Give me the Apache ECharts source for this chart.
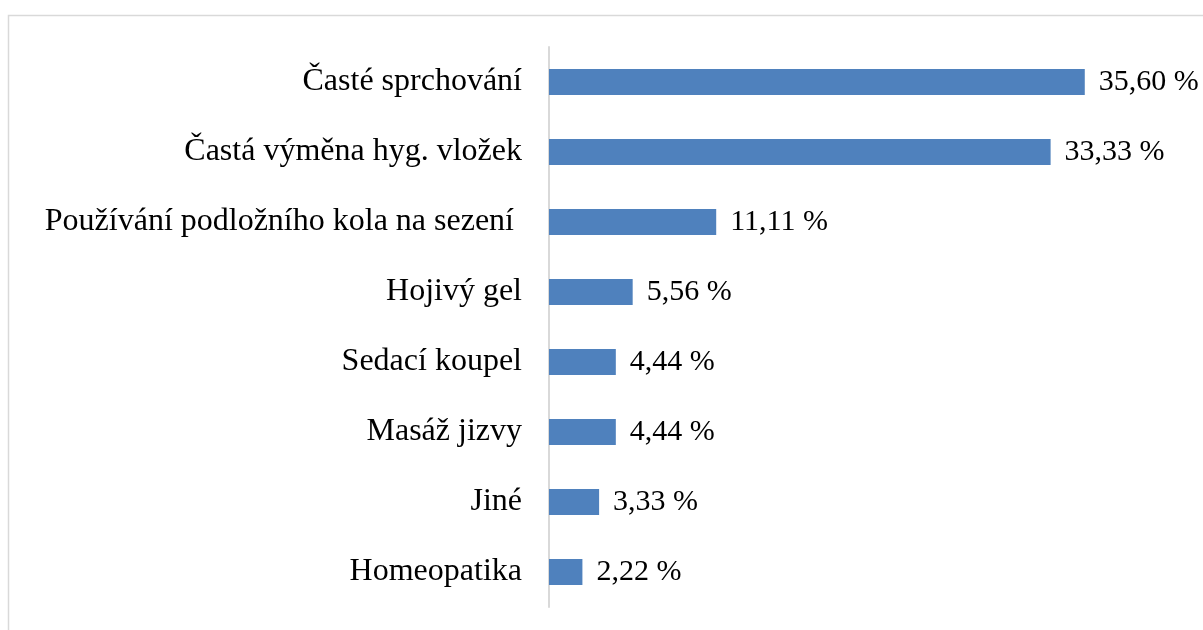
<!DOCTYPE html>
<html><head><meta charset="utf-8">
<script src="https://cdn.jsdelivr.net/npm/echarts@6/dist/echarts.min.js"></script>
<style>html,body{margin:0;padding:0;background:#fff}#c{width:1203px;height:630px}</style>
</head><body><div id="c"></div>
<script>
const categories = ["Časté sprchování","Častá výměna hyg. vložek","Používání podložního kola na sezení ","Hojivý gel","Sedací koupel","Masáž jizvy","Jiné","Homeopatika"];
const values = [35.60,33.33,11.11,5.56,4.44,4.44,3.33,2.22];
const chart = echarts.init(document.getElementById('c'));
const font = "'Liberation Serif','Times New Roman',serif";
chart.setOption({
  animation:false,
  graphic:[{type:'rect',shape:{x:8.5,y:15.5,width:1300,height:700},style:{fill:'none',stroke:'#d9d9d9',lineWidth:1.5},silent:true}],
  grid:{left:549,right:52,top:47,bottom:23,containLabel:false},
  xAxis:{type:'value',min:0,max:40,show:false},
  yAxis:{type:'category',data:categories,inverse:true,
    axisLine:{show:true,lineStyle:{color:'#d9d9d9',width:2}},
    axisTick:{show:false},
    axisLabel:{fontFamily:font,fontSize:32,color:'#000',margin:27,padding:[3,0,0,0]}},
  series:[{type:'bar',data:values,barWidth:26,
    itemStyle:{color:'#4F81BD'},
    label:{show:true,position:'right',distance:14,fontFamily:font,fontSize:30,color:'#000',padding:[3,0,0,0],
      formatter:p=>p.value.toFixed(2).replace('.',',')+' %'}}]
});
</script></body></html>
